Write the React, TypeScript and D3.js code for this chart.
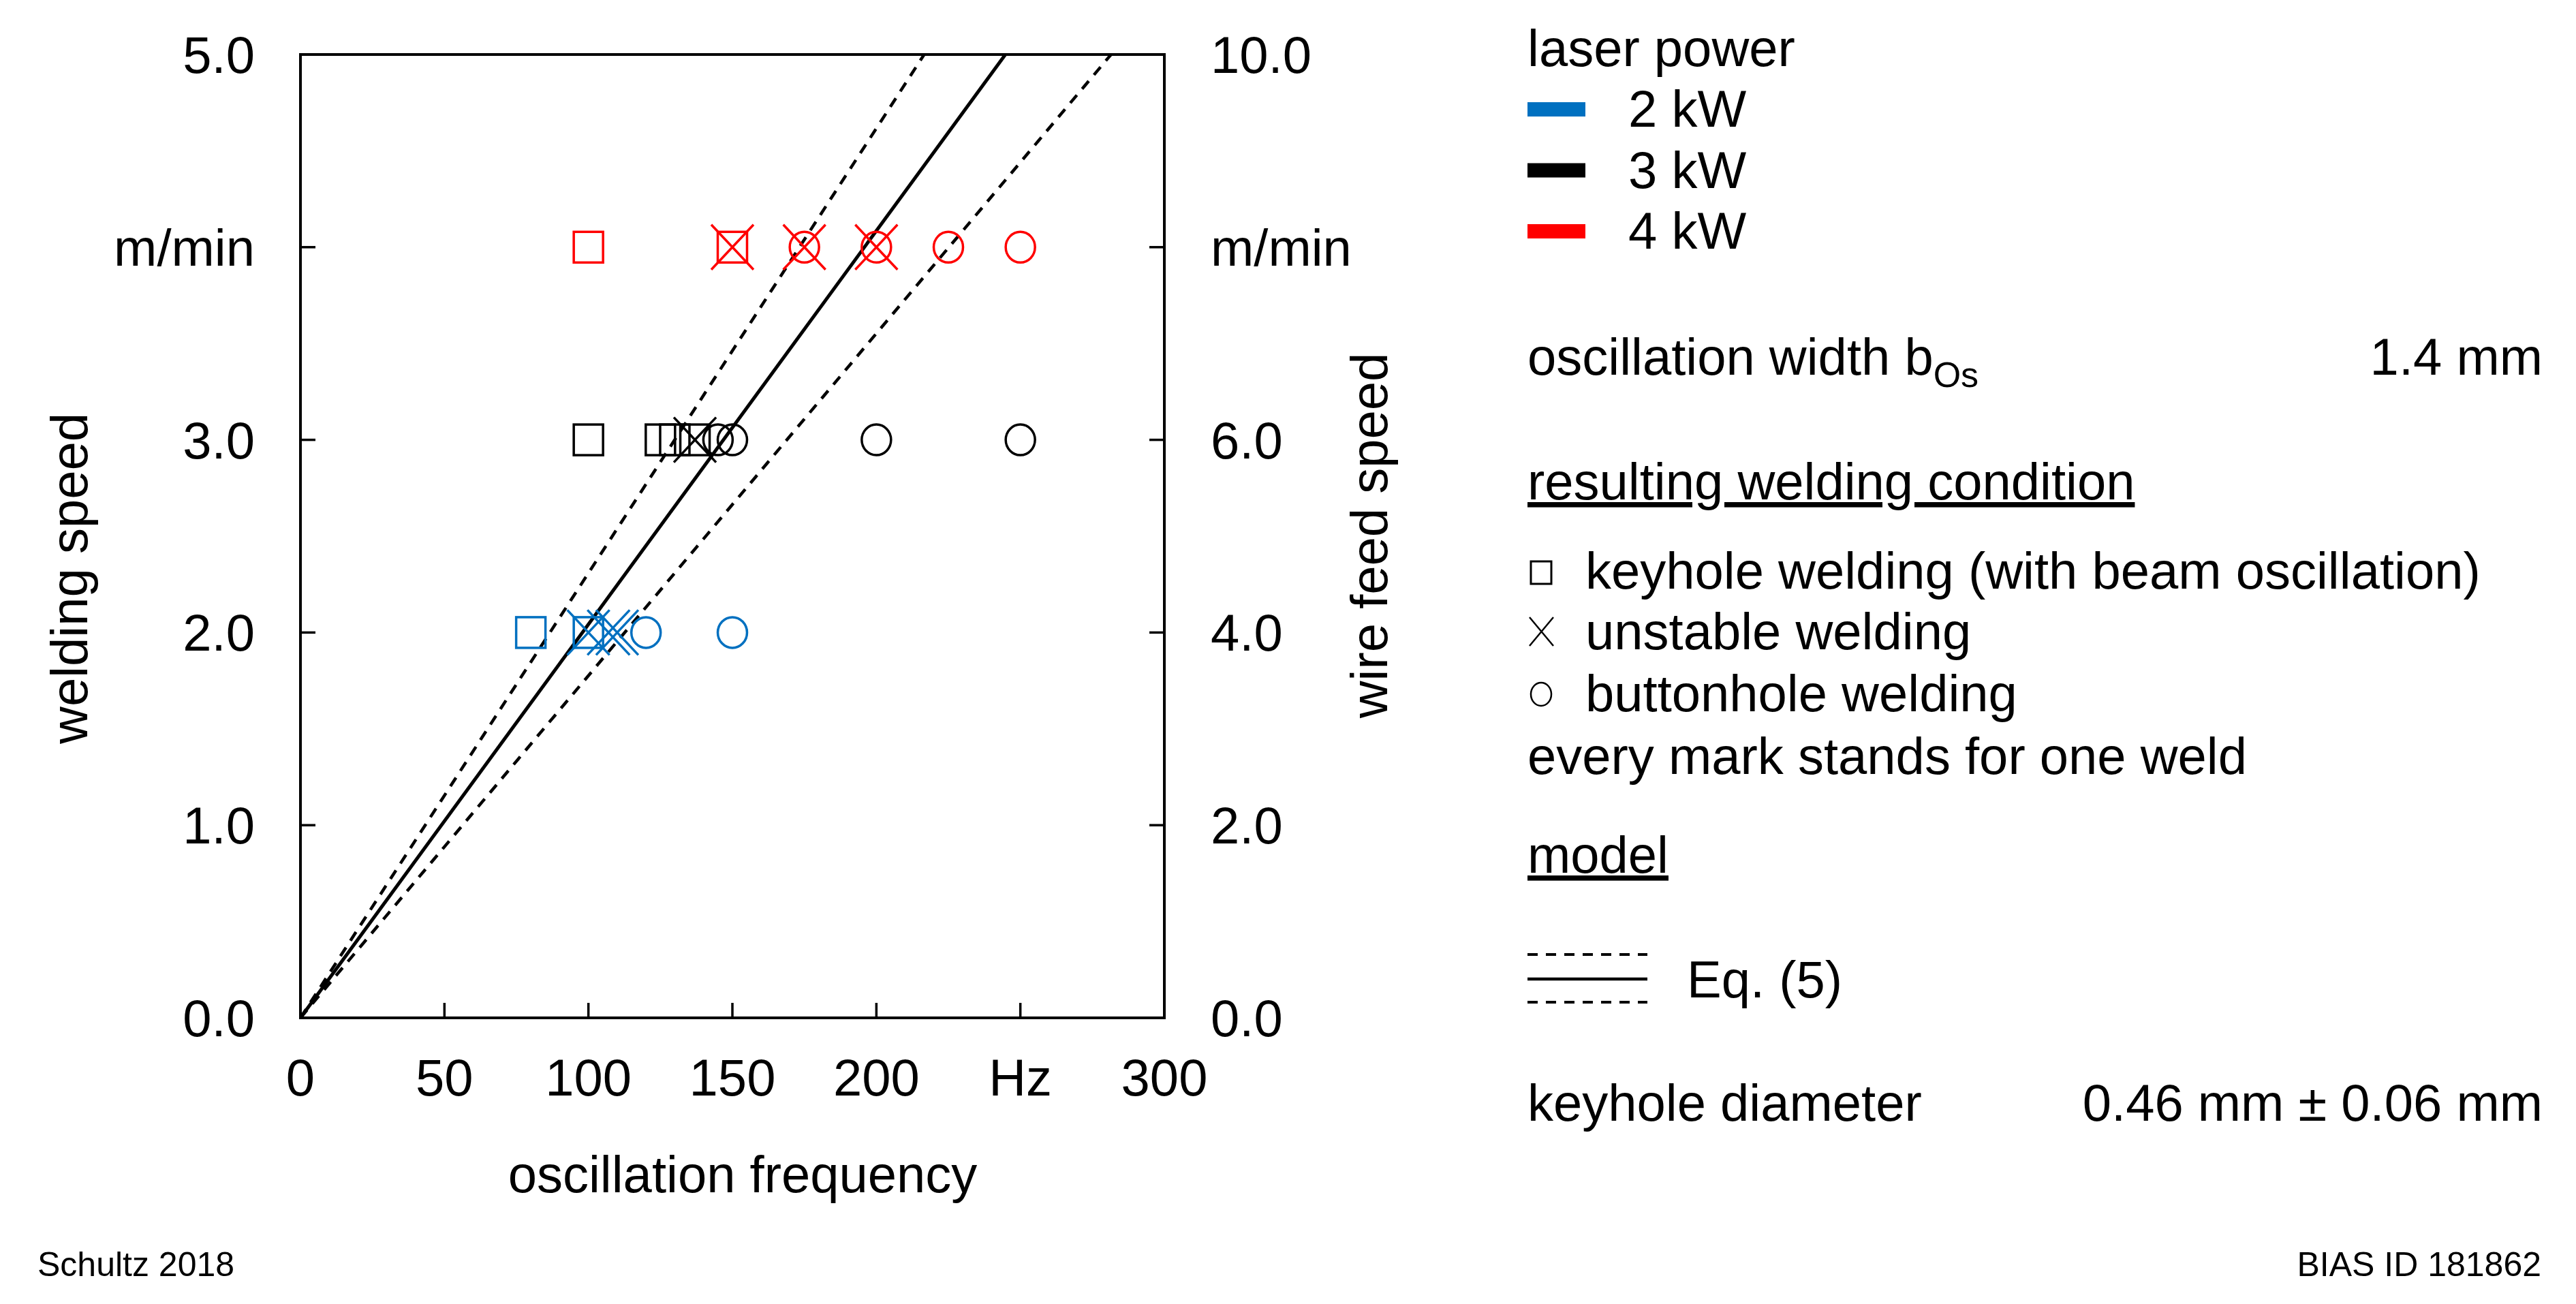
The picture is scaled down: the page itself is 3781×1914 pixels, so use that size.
import React from "react";
import * as d3 from "d3";

// ---- data ----
const xTicks = [0, 50, 100, 150, 200, 250, 300];
const xTickLabels = ["0", "50", "100", "150", "200", "Hz", "300"];
const yTicks = [0, 1, 2, 3, 4, 5];
const yTickLabels = ["0.0", "1.0", "2.0", "3.0", "m/min", "5.0"];
const y2TickLabels = ["0.0", "2.0", "4.0", "6.0", "m/min", "10.0"];

const powers = ["2 kW", "3 kW", "4 kW"];
const powerColors = ["#0070C0", "#000000", "#FF0000"];
const weldingSpeeds = [2, 3, 4];

// oscillation frequencies (Hz) per laser power, per welding condition
const keyholeFreqs = [[80, 100], [100, 125, 130, 137], [100, 150]];
const unstableFreqs = [[100, 107, 110], [137], [150, 175, 200]];
const buttonholeFreqs = [[120, 150], [145, 150, 200, 250], [175, 200, 225, 250]];

// model Eq. (5): frequency at which welding speed reaches 5 m/min
const modelFreqAt5 = [216.6, 244.8, 281.5];
const modelDashed = [true, false, true];

const FONT = "'Liberation Sans', Arial, sans-serif";
const FS = 76;

export default function App() {
  const x = d3.scaleLinear().domain([0, 300]).range([441, 1709]);
  const y = d3.scaleLinear().domain([0, 5]).range([1494, 80]);
  const [x0, x1] = x.range();
  const [yb, yt] = y.range();
  const tick = 22;
  const line = d3.line<[number, number]>().x((d) => x(d[0])).y((d) => y(d[1]));

  const sqW = 43, sqH = 45, cRx = 21.5, cRy = 22.5, xw = 31, xh = 33;

  const markers: JSX.Element[] = [];
  weldingSpeeds.forEach((v, i) => {
    const c = powerColors[i];
    keyholeFreqs[i].forEach((f, j) =>
      markers.push(
        <rect key={`k${i}-${j}`} x={x(f) - sqW / 2} y={y(v) - sqH / 2} width={sqW} height={sqH}
          fill="none" stroke={c} strokeWidth={3.5} />
      )
    );
    buttonholeFreqs[i].forEach((f, j) =>
      markers.push(
        <ellipse key={`b${i}-${j}`} cx={x(f)} cy={y(v)} rx={cRx} ry={cRy} fill="none" stroke={c} strokeWidth={3.5} />
      )
    );
    unstableFreqs[i].forEach((f, j) =>
      markers.push(
        <path key={`u${i}-${j}`}
          d={`M${x(f) - xw},${y(v) - xh}L${x(f) + xw},${y(v) + xh}M${x(f) + xw},${y(v) - xh}L${x(f) - xw},${y(v) + xh}`}
          fill="none" stroke={c} strokeWidth={3.5} />
      )
    );
  });

  const LX = 2242;
  const RX = 3732;

  return (
    <div style={{ position: "absolute", left: 0, top: 0 }}>
      <svg width={3781} height={1914} style={{ display: "block", background: "#fff" }} fontFamily={FONT}>
        <rect width={3781} height={1914} fill="#fff" />
        <defs>
          <clipPath id="plotClip">
            <rect x={x0} y={yt} width={x1 - x0} height={yb - yt} />
          </clipPath>
        </defs>

        {/* model lines */}
        <g clipPath="url(#plotClip)">
          {modelFreqAt5.map((f, i) => (
            <path key={i} d={line([[0, 0], [f, 5]]) || ""} fill="none" stroke="#000"
              strokeWidth={modelDashed[i] ? 4.5 : 5} strokeDasharray={modelDashed[i] ? "15,12" : undefined} />
          ))}
        </g>

        {markers}

        {/* frame */}
        <rect x={x0} y={yt} width={x1 - x0} height={yb - yt} fill="none" stroke="#000" strokeWidth={4} />

        {/* ticks */}
        {xTicks.map((t, i) => (
          <g key={`xt${i}`}>
            <line x1={x(t)} x2={x(t)} y1={yb} y2={yb - tick} stroke="#000" strokeWidth={3.5} />
            <text x={x(t)} y={1608} fontSize={FS} textAnchor="middle">{xTickLabels[i]}</text>
          </g>
        ))}
        {yTicks.map((t, i) => (
          <g key={`yt${i}`}>
            <line x1={x0} x2={x0 + tick} y1={y(t)} y2={y(t)} stroke="#000" strokeWidth={3.5} />
            <line x1={x1} x2={x1 - tick} y1={y(t)} y2={y(t)} stroke="#000" strokeWidth={3.5} />
            <text x={374} y={y(t) + 27} fontSize={FS} textAnchor="end">{yTickLabels[i]}</text>
            <text x={1777} y={y(t) + 27} fontSize={FS} textAnchor="start">{y2TickLabels[i]}</text>
          </g>
        ))}

        {/* axis titles */}
        <text x={1090} y={1750} fontSize={FS} textAnchor="middle">oscillation frequency</text>
        <text transform={`translate(128,849) rotate(-90)`} fontSize={FS} textAnchor="middle">welding speed</text>
        <text transform={`translate(2036,786) rotate(-90)`} fontSize={FS} textAnchor="middle">wire feed speed</text>

        {/* legend */}
        <text x={LX} y={97} fontSize={FS}>laser power</text>
        {powers.map((p, i) => (
          <g key={`lp${i}`}>
            <rect x={LX} y={150 + i * 89.5} width={85} height={21} fill={powerColors[i]} />
            <text x={2390} y={186 + i * 89.5} fontSize={FS}>{p}</text>
          </g>
        ))}

        <text x={LX} y={550} fontSize={FS}>
          oscillation width b<tspan fontSize={52} dy={18}>Os</tspan>
        </text>
        <text x={RX} y={550} fontSize={FS} textAnchor="end">1.4 mm</text>

        <text x={LX} y={733} fontSize={FS} textDecoration="underline">resulting welding condition</text>

        <rect x={2247} y={824} width={30} height={33} fill="none" stroke="#000" strokeWidth={3} />
        <text x={2327} y={864} fontSize={FS}>keyhole welding (with beam oscillation)</text>
        <path d={`M2245,906L2280,948M2280,906L2245,948`} fill="none" stroke="#000" strokeWidth={2.5} />
        <text x={2327} y={953} fontSize={FS}>unstable welding</text>
        <ellipse cx={2262} cy={1019} rx={15} ry={17} fill="none" stroke="#000" strokeWidth={2.5} />
        <text x={2327} y={1044} fontSize={FS}>buttonhole welding</text>
        <text x={LX} y={1136} fontSize={FS}>every mark stands for one weld</text>

        <text x={LX} y={1281} fontSize={FS} textDecoration="underline">model</text>
        <line x1={LX} x2={2418} y1={1401} y2={1401} stroke="#000" strokeWidth={4} strokeDasharray="15,12" />
        <line x1={LX} x2={2418} y1={1437} y2={1437} stroke="#000" strokeWidth={4.5} />
        <line x1={LX} x2={2418} y1={1471} y2={1471} stroke="#000" strokeWidth={4} strokeDasharray="15,12" />
        <text x={2476} y={1464} fontSize={FS}>Eq. (5)</text>

        <text x={LX} y={1645} fontSize={FS}>keyhole diameter</text>
        <text x={RX} y={1645} fontSize={FS} textAnchor="end">0.46 mm ± 0.06 mm</text>

        <text x={55} y={1873} fontSize={50}>Schultz 2018</text>
        <text x={3730} y={1873} fontSize={50} textAnchor="end">BIAS ID 181862</text>
      </svg>
    </div>
  );
}
